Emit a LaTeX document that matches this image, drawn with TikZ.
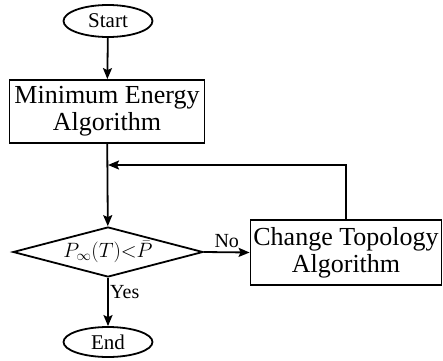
\documentclass[tikz,border=0pt]{standalone}
\usepackage{fontspec}
\setmainfont{Liberation Serif}
\usetikzlibrary{shapes.geometric,arrows.meta}

\tikzset{
  term/.style={draw, ellipse, line width=1.8pt, inner sep=0pt,
    minimum width=89pt, minimum height=32pt, font=\fontsize{21}{25}\selectfont},
  procbox/.style={draw, rectangle, line width=1.8pt, align=center, inner sep=0pt,
    font=\fontsize{26}{27}\selectfont},
  testbox/.style={draw, diamond, aspect=3.8, line width=1.8pt, inner sep=0pt,
    minimum width=190pt, minimum height=50pt, font=\fontsize{22}{26}\selectfont},
  flow/.style={line width=1.8pt, -{Stealth[length=11pt,width=9pt,inset=2pt]}},
  lbl/.style={font=\fontsize{20}{24}\selectfont}
}

\begin{document}
\begin{tikzpicture}[x=1pt, y=1pt]
    \useasboundingbox (0,0) rectangle (443,360);
    \node[term] (start) at (108,339) {Start};
    \node[procbox, minimum width=195pt, minimum height=63pt] (minen) at (107,248.5)
      {Minimum Energy\\Algorithm};
    \node[testbox] (test) at (108,108) {$P_\infty(T)\mathord{<}\bar{P}$};
    \node[procbox, minimum width=191pt, minimum height=65pt] (chtop) at (346,107.5)
      {Change Topology\\Algorithm};
    \node[term, minimum height=30pt] (stop) at (108,18) {End};
    \coordinate (join) at (108,195);
    \draw[flow] (start) -- (minen);
    \draw[flow] (minen) -- (test);
    \draw[flow] (test.east) -- (chtop.west)
      node[lbl, midway, above] {No};
    \draw[flow] (chtop.north) |- (join);
    \draw[flow] (test.south) -- (stop)
      node[lbl, pos=0.3, right, xshift=-2pt] {Yes};
\end{tikzpicture}
\end{document}
